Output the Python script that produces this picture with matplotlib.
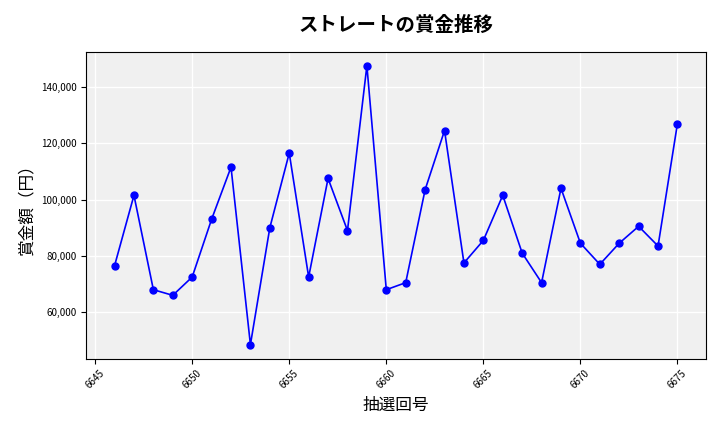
import matplotlib.pyplot as plt
import matplotlib.ticker as mticker

plt.rcParams['font.family'] = ['Noto Sans CJK JP', 'DejaVu Sans']

# 抽選回号と賞金額
kaigou = list(range(6646, 6676))
shoukin = [76500, 101500, 68000, 66000, 72500, 93000, 111500, 48500, 90000, 116500,
           72500, 107500, 89000, 147500, 68000, 70500, 103500, 124500, 77500, 85500,
           101500, 81000, 70500, 104000, 84500, 77000, 84500, 90500, 83500, 127000]

fig, ax = plt.subplots(figsize=(7.2, 4.32), dpi=100)
ax.set_facecolor('#f0f0f0')
ax.grid(True, color='white', linewidth=1)
ax.set_axisbelow(True)

ax.plot(kaigou, shoukin, color='blue', marker='o', markersize=5, linewidth=1.2)

ax.set_title('ストレートの賞金推移', fontsize=14, fontweight='bold', pad=15)
ax.set_xlabel('抽選回号', fontsize=12)
ax.set_ylabel('賞金額（円）', fontsize=12)
ax.yaxis.set_major_formatter(mticker.FuncFormatter(lambda v, p: f'{int(v):,}'))
ax.tick_params(axis='x', labelrotation=45, labelsize=7)
ax.tick_params(axis='y', labelsize=7)

fig.subplots_adjust(left=0.12, right=0.98, top=0.88, bottom=0.17)
fig.savefig('out.png')
